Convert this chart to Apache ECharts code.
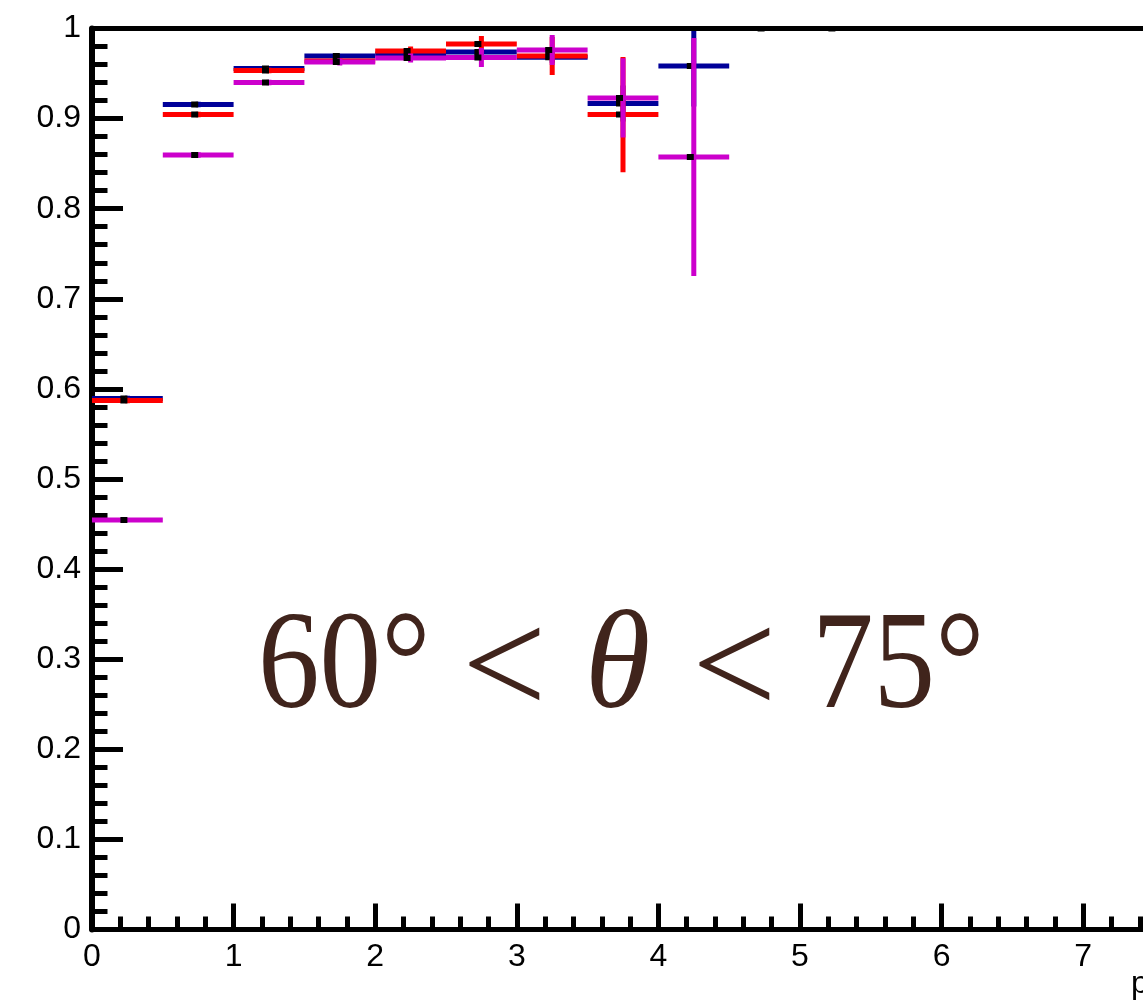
<!DOCTYPE html>
<html><head><meta charset="utf-8">
<script src="https://cdn.jsdelivr.net/npm/echarts@6/dist/echarts.min.js"></script>
<style>html,body{margin:0;padding:0;background:#fff}#c{width:1143px;height:1003px}</style>
</head><body><div id="c"></div>
<script>
// bin lower edges (bin width 0.5)
const binLow = [0, 0.5, 1, 1.5, 2, 2.5, 3, 3.5, 4, 4.5, 5];
const binWidth = 0.5;
// efficiency values per series (null = no entry)
const blueVals    = [0.5893, 0.9157, 0.9556, 0.9695, 0.9717, 0.9739, 0.9680, 0.9167, 0.9584, 1.0, 1.0];
const blueErrs    = [0.003,  0.003,  0.002,  0.002,  0.003,  0.004,  0.006,  0.020,  0.045,  0,   0];
const redVals     = [0.5871, 0.9045, 0.9534, 0.9640, 0.9750, 0.9828, 0.9695, 0.9045, null, null, null];
const redErrs     = [0.003,  0.003,  0.003,  0.003,  0.005,  0.009,  0.021,  0.064,  0, 0, 0];
const magentaVals = [0.4545, 0.8596, 0.9401, 0.9628, 0.9673, 0.9678, 0.9761, 0.9229, 0.8574, null, null];
const magentaErrs = [0.002,  0.003,  0.003,  0.004,  0.005,  0.0105, 0.0167, 0.044,  0.132,  0, 0];
// tick labels
const xTickLabels = ['0','1','2','3','4','5','6','7','8'];
const yTickLabels = ['0','0.1','0.2','0.3','0.4','0.5','0.6','0.7','0.8','0.9','1'];

function makeSeries(name, color, vals, errs, z) {
  const data = [];
  vals.forEach((v, i) => {
    if (v == null) return;
    data.push([binLow[i], binLow[i] + binWidth, v, errs[i]]);
  });
  return {
    type: 'custom', name: name, z: z, clip: true, data: data,
    encode: { x: [0, 1], y: 2 },
    renderItem: function (params, api) {
      const lo = api.value(0), hi = api.value(1), v = api.value(2), e = api.value(3);
      const c = (lo + hi) / 2;
      const pL = api.coord([lo, v]), pR = api.coord([hi, v]);
      const pT = api.coord([c, v + e]), pB = api.coord([c, v - e]);
      const children = [
        { type: 'line', shape: { x1: pL[0], y1: pL[1], x2: pR[0], y2: pR[1] }, style: { stroke: color, lineWidth: 5 } }
      ];
      if (e > 0) {
        children.push({ type: 'line', shape: { x1: pT[0], y1: pT[1], x2: pB[0], y2: pB[1] }, style: { stroke: color, lineWidth: 5 } });
      }
      children.push({ type: 'rect', shape: { x: pT[0] - 7, y: pL[1] - 3, width: 7, height: 6 }, style: { fill: '#000' } });
      return { type: 'group', children: children };
    }
  };
}

const labelFont = { fontFamily: 'Liberation Sans', fontSize: 32, color: '#000' };
const titleColor = '#40241c';
const titleFont = { fontFamily: 'Liberation Serif', fontSize: 140, fill: titleColor };
const chart = echarts.init(document.getElementById('c'), null, { renderer: 'canvas' });
chart.setOption({
  animation: false,
  backgroundColor: '#fff',
  grid: { left: 92, top: 28.5, right: -81.8, bottom: 73.5, containLabel: false, outerBoundsMode: 'none' },
  xAxis: [{
    type: 'value', min: 0, max: 8, interval: 1, position: 'bottom',
    axisLine: { show: true, onZero: false, lineStyle: { color: '#000', width: 5 } },
    axisTick: { show: true, inside: true, length: 26, lineStyle: { color: '#000', width: 5 } },
    minorTick: { show: true, splitNumber: 5, length: 13, lineStyle: { color: '#000', width: 5 } },
    splitLine: { show: false },
    axisLabel: Object.assign({ margin: 12, formatter: v => xTickLabels[Math.round(v)] }, labelFont)
  }, {
    type: 'value', min: 0, max: 8, position: 'top', z: 10,
    axisLine: { show: true, onZero: false, lineStyle: { color: '#000', width: 5 } },
    axisTick: { show: false }, axisLabel: { show: false }, splitLine: { show: false }
  }],
  yAxis: {
    type: 'value', min: 0, max: 1, interval: 0.1,
    axisLine: { show: true, onZero: false, lineStyle: { color: '#000', width: 6 } },
    axisTick: { show: true, inside: true, length: 31, lineStyle: { color: '#000', width: 5 } },
    minorTick: { show: true, splitNumber: 5, length: 15.5, lineStyle: { color: '#000', width: 5 } },
    splitLine: { show: false },
    axisLabel: Object.assign({ margin: 11, padding: [5, 0, 0, 0], formatter: v => yTickLabels[Math.round(v * 10)] }, labelFont)
  },
  series: [
    makeSeries('blue', '#000099', blueVals, blueErrs, 2),
    makeSeries('red', '#ff0000', redVals, redErrs, 3),
    makeSeries('magenta', '#cc00cc', magentaVals, magentaErrs, 4)
  ],
  graphic: [
    { type: 'text', x: 258, y: 600, scaleX: 0.88, z: 20, style: Object.assign({ text: '60°' }, titleFont) },
    { type: 'text', x: 462, y: 600, z: 20, style: Object.assign({ text: '<' }, titleFont, { fontSize: 150 }) },
    { type: 'text', x: 585, y: 600, scaleX: 0.95, z: 20, style: Object.assign({ text: 'θ' }, titleFont, { fontStyle: 'italic' }) },
    { type: 'text', x: 692, y: 600, z: 20, style: Object.assign({ text: '<' }, titleFont, { fontSize: 150 }) },
    { type: 'text', x: 812, y: 600, scaleX: 0.88, z: 20, style: Object.assign({ text: '75°' }, titleFont) },
    {
      type: 'text', left: 1131, top: 968, z: 20,
      style: { text: 'p (GeV/c)', fontFamily: 'Liberation Sans', fontSize: 32, fill: '#000' }
    }
  ]
});
</script>
</body></html>
